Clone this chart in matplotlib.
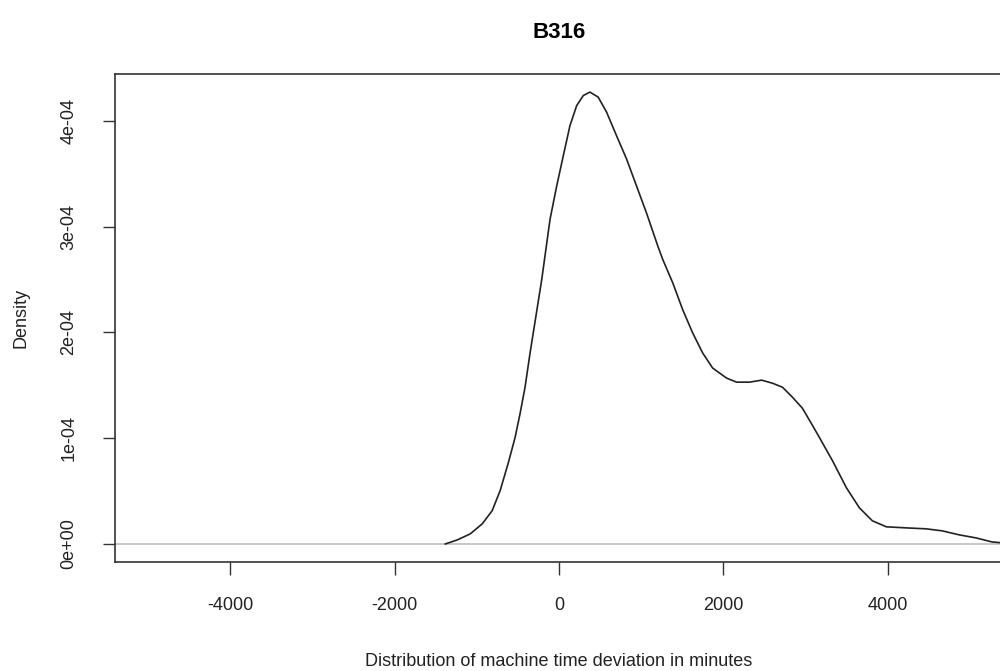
import numpy as np
import matplotlib
matplotlib.use("Agg")
import matplotlib.pyplot as plt

# density curve (minutes, density)
dev_minutes = [-1383, -1238, -1080, -934, -813, -716, -619, -534, -473, -413,
               -352, -210, -109, -28, 52, 133, 215, 295, 376, 477, 579, 700,
               822, 943, 1064, 1205, 1262, 1383, 1505, 1626, 1748, 1869,
               2039, 2160, 2318, 2464, 2597, 2718, 2840, 2961, 3083, 3167,
               3325, 3495, 3653, 3811, 3981, 4223, 4466, 4660, 4867, 5073,
               5267, 5470]
density = [0.0, 3.8e-6, 9.5e-6, 1.90e-5, 3.14e-5, 5.04e-5, 7.60e-5, 1.007e-4,
           1.235e-4, 1.482e-4, 1.805e-4, 2.50e-4, 3.07e-4, 3.385e-4, 3.67e-4,
           3.955e-4, 4.145e-4, 4.24e-4, 4.273e-4, 4.225e-4, 4.083e-4, 3.86e-4,
           3.64e-4, 3.385e-4, 3.13e-4, 2.81e-4, 2.69e-4, 2.47e-4, 2.214e-4,
           1.995e-4, 1.805e-4, 1.663e-4, 1.568e-4, 1.53e-4, 1.53e-4, 1.549e-4,
           1.52e-4, 1.482e-4, 1.387e-4, 1.283e-4, 1.121e-4, 1.007e-4, 7.89e-5,
           5.32e-5, 3.42e-5, 2.19e-5, 1.62e-5, 1.52e-5, 1.43e-5, 1.24e-5,
           8.6e-6, 5.7e-6, 1.9e-6, 5e-7]

xticks = [-4000, -2000, 0, 2000, 4000]
yticks = [0, 1e-4, 2e-4, 3e-4, 4e-4]
ytick_labels = ["0e+00", "1e-04", "2e-04", "3e-04", "4e-04"]

plt.rcParams['font.family'] = ['Liberation Sans', 'DejaVu Sans']

fig = plt.figure(figsize=(10, 6.71), dpi=100)
ax = fig.add_axes([0.115, 0.1624, 0.888, 0.7273])

ax.axhline(0, color="#bebebe", lw=1.2, zorder=1)
ax.plot(dev_minutes, density, color="#222222", lw=1.2, zorder=2)

ymax = max(density)
ax.set_xlim(-5400, 5400)
ax.set_ylim(-0.04 * ymax, 1.04 * ymax)

ax.set_xticks(xticks)
ax.set_xticklabels([str(t) for t in xticks])
ax.set_yticks(yticks)
ax.set_yticklabels(ytick_labels, rotation=90, va="center")
ax.tick_params(axis="both", direction="out", length=9, width=1,
               labelsize=13, color="#333333", labelcolor="#222222")
ax.tick_params(axis="x", pad=16)
ax.tick_params(axis="y", pad=18)

for s in ax.spines.values():
    s.set_color("#333333")
    s.set_linewidth(1.2)

ax.set_xlabel("Distribution of machine time deviation in minutes",
              fontsize=13, color="#222222", labelpad=28)
ax.set_ylabel("Density", fontsize=13, color="#222222", labelpad=22)
ax.set_title("B316", fontsize=16, fontweight="bold", pad=26)

fig.savefig("out.png", dpi=100)
